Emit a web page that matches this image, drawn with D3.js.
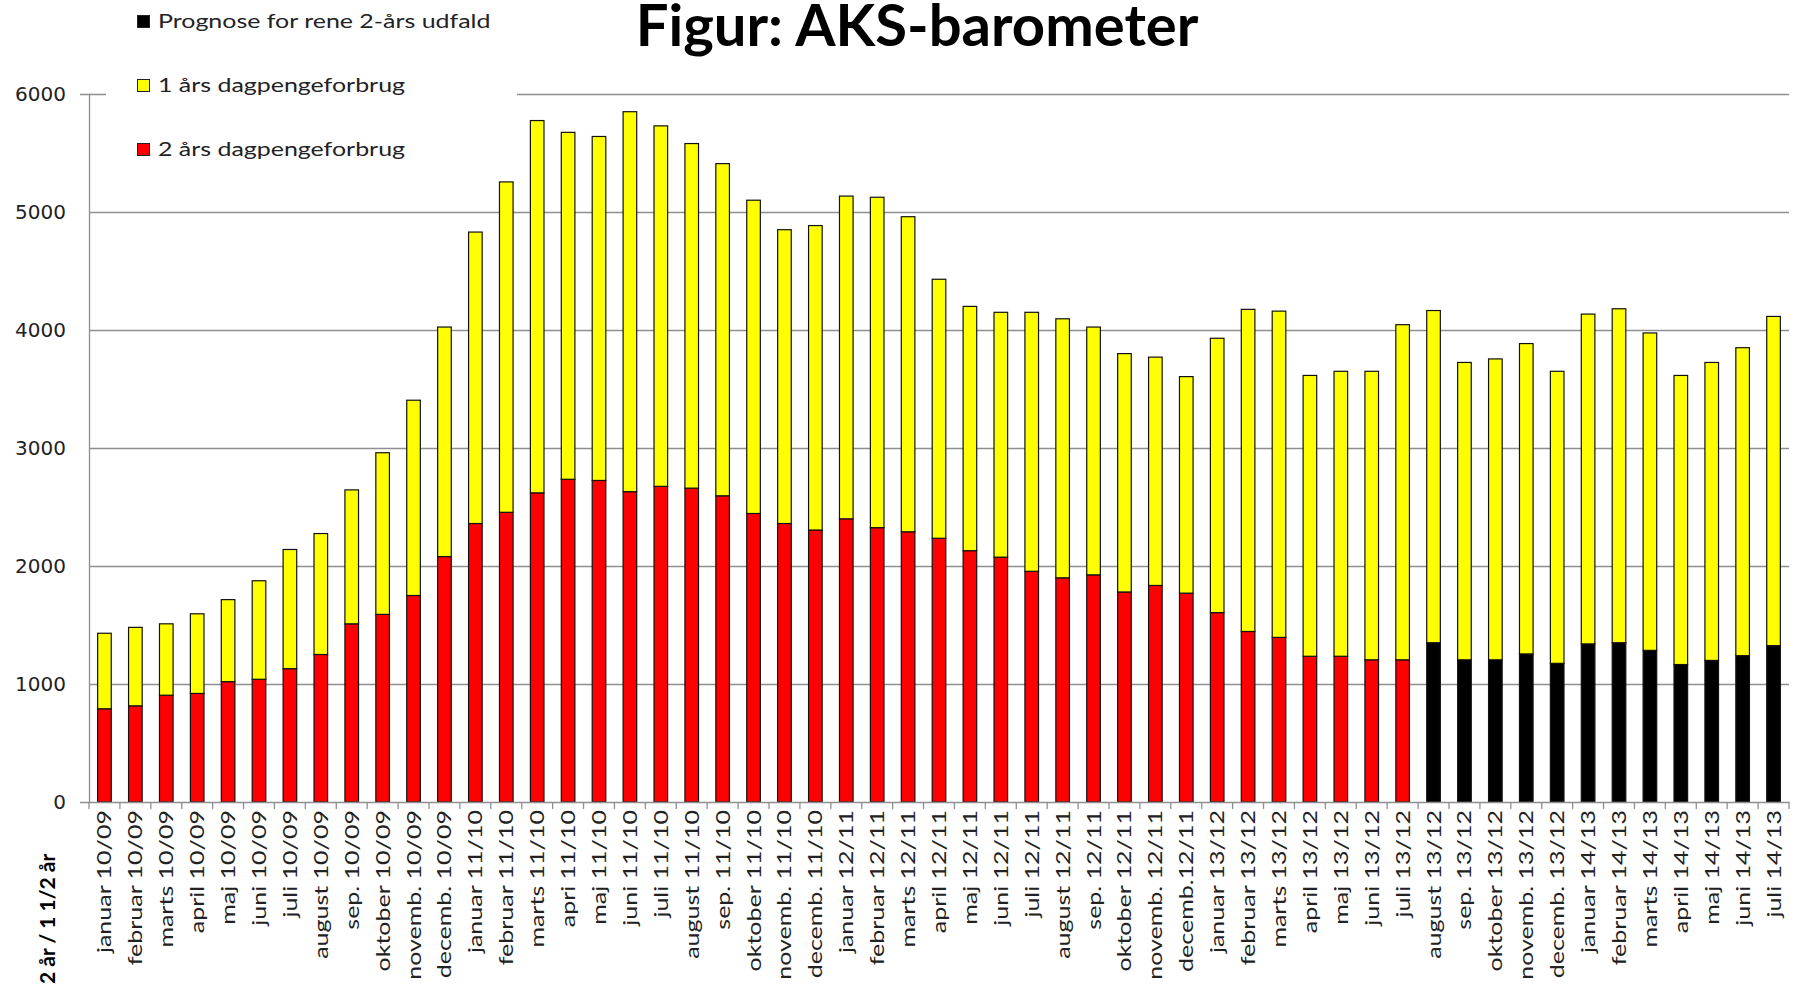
<!DOCTYPE html>
<html>
<head>
<meta charset="utf-8">
<script src="https://cdn.jsdelivr.net/npm/d3@7"></script>
<style>
  body { margin: 0; background: #fff; }
</style>
</head>
<body>
<div id="chart"></div>
<script>

// month labels on the x axis
const labels = [
  "januar 10/09", "februar 10/09", "marts 10/09", "april 10/09", "maj 10/09", "juni 10/09",
  "juli 10/09", "august 10/09", "sep. 10/09", "oktober 10/09", "novemb. 10/09", "decemb. 10/09",
  "januar 11/10", "februar 11/10", "marts 11/10", "apri 11/10", "maj 11/10", "juni 11/10",
  "juli 11/10", "august 11/10", "sep. 11/10", "oktober 11/10", "novemb. 11/10", "decemb. 11/10",
  "januar 12/11", "februar 12/11", "marts 12/11", "april 12/11", "maj 12/11", "juni 12/11",
  "juli 12/11", "august 12/11", "sep. 12/11", "oktober 12/11", "novemb. 12/11", "decemb.12/11",
  "januar 13/12", "februar 13/12", "marts 13/12", "april 13/12", "maj 13/12", "juni 13/12",
  "juli 13/12", "august 13/12", "sep. 13/12", "oktober 13/12", "novemb. 13/12", "decemb. 13/12",
  "januar 14/13", "februar 14/13", "marts 14/13", "april 14/13", "maj 14/13", "juni 14/13",
  "juli 14/13"
];

// 2 års dagpengeforbrug (red), null where the forecast takes over
const toAar = [
  790, 815, 905, 920, 1020, 1040, 1130, 1250, 1510, 1590, 1750, 2080,
  2360, 2455, 2620, 2735, 2725, 2630, 2675, 2660, 2595, 2445, 2360, 2305,
  2400, 2325, 2290, 2235, 2130, 2075, 1955, 1900, 1925, 1780, 1835, 1770,
  1605, 1445, 1395, 1235, 1235, 1205, 1205, null, null, null, null, null,
  null, null, null, null, null, null, null
];

// Prognose for rene 2-års udfald (black)
const prognose = [
  null, null, null, null, null, null, null, null, null, null, null, null,
  null, null, null, null, null, null, null, null, null, null, null, null,
  null, null, null, null, null, null, null, null, null, null, null, null,
  null, null, null, null, null, null, null, 1350, 1205, 1205, 1255, 1175,
  1340, 1350, 1285, 1165, 1200, 1240, 1325
];

// 1 års dagpengeforbrug (yellow, stacked on top)
const etAar = [
  640, 665, 605, 675, 695, 835, 1010, 1025, 1135, 1370, 1655, 1945,
  2470, 2800, 3155, 2940, 2915, 3220, 3055, 2920, 2815, 2655, 2490, 2580,
  2735, 2800, 2670, 2195, 2070, 2075, 2195, 2195, 2100, 2020, 1935, 1835,
  2325, 2730, 2765, 2380, 2415, 2445, 2840, 2815, 2520, 2550, 2630, 2475,
  2795, 2830, 2690, 2450, 2525, 2610, 2790
];

const yTicks = [0, 1000, 2000, 3000, 4000, 5000, 6000];

const width = 1800;
const height = 991;
const margin = {left: 89, right: 11, top: 94, bottom: 189};

const svg = d3.select("#chart")
  .append("svg")
  .attr("width", width)
  .attr("height", height);

const xScale = d3.scaleBand()
  .domain(d3.range(labels.length))
  .range([margin.left, width - margin.right])
  .paddingInner(0.56)
  .paddingOuter(0.28);

const yScale = d3.scaleLinear()
  .domain([0, 6000])
  .range([height - margin.bottom, margin.top]);

// horizontal gridlines
svg.append("g")
  .selectAll("line")
  .data(yTicks.slice(1))
  .enter()
  .append("line")
    .attr("x1", margin.left)
    .attr("x2", width - margin.right)
    .attr("y1", d => yScale(d) + 0.5)
    .attr("y2", d => yScale(d) + 0.5)
    .attr("stroke", "#8f8f8f")
    .attr("stroke-width", 1.3);

// bars
const base = d3.range(labels.length).map(i => toAar[i] != null ? toAar[i] : prognose[i]);

svg.append("g")
  .selectAll("rect")
  .data(d3.range(labels.length))
  .enter()
  .append("rect")
    .attr("x", i => xScale(i))
    .attr("y", i => yScale(base[i]))
    .attr("width", xScale.bandwidth())
    .attr("height", i => yScale(0) - yScale(base[i]))
    .attr("fill", i => toAar[i] != null ? "#ff0000" : "#000000")
    .attr("stroke", "#111")
    .attr("stroke-width", 1.2);

svg.append("g")
  .selectAll("rect")
  .data(d3.range(labels.length))
  .enter()
  .append("rect")
    .attr("x", i => xScale(i))
    .attr("y", i => yScale(base[i] + etAar[i]))
    .attr("width", xScale.bandwidth())
    .attr("height", i => yScale(base[i]) - yScale(base[i] + etAar[i]))
    .attr("fill", "#ffff00")
    .attr("stroke", "#111")
    .attr("stroke-width", 1.2);

// legend box hides the top gridline, like in the original
const legendItems = [
  {name: "Prognose for rene 2-års udfald", color: "#000000", y: 20},
  {name: "1 års dagpengeforbrug", color: "#ffff00", y: 84},
  {name: "2 års dagpengeforbrug", color: "#ff0000", y: 148}
];

svg.append("rect")
  .attr("x", 106)
  .attr("y", 0)
  .attr("width", 411)
  .attr("height", 170)
  .attr("fill", "#fff");

const legend = svg.append("g")
  .selectAll("g")
  .data(legendItems)
  .enter()
  .append("g")
  .attr("transform", d => `translate(137, ${d.y})`);

legend.append("rect")
  .attr("x", 0.5)
  .attr("y", -4.5)
  .attr("width", 12)
  .attr("height", 12)
  .attr("fill", d => d.color)
  .attr("stroke", "#222");

// the original font runs wider than Lato, so stretch it a little
legend.append("text")
  .attr("transform", "translate(21, 1) scale(1.28, 1)")
  .attr("dy", "0.35em")
  .attr("font-family", "Lato")
  .attr("font-size", "19.5px")
  .attr("fill", "#222")
  .text(d => d.name);

// y axis
svg.append("g")
  .attr("transform", `translate(${margin.left}, 0)`)
  .call(d3.axisLeft(yScale)
    .tickValues(yTicks)
    .tickFormat(d3.format("d"))
    .tickSizeInner(0)
    .tickSizeOuter(9)
    .tickPadding(23))
  .call(g => g.select(".domain").attr("stroke", "#8f8f8f").attr("stroke-width", 1.3))
  .call(g => g.selectAll("text")
    .attr("font-family", "DejaVu Sans")
    .attr("font-size", "20px")
    .attr("fill", "#222"));

// x axis
const xAxis = svg.append("g")
  .attr("transform", `translate(0, ${height - margin.bottom})`)
  .call(d3.axisBottom(xScale)
    .tickSize(0)
    .tickSizeOuter(0)
    .tickFormat(i => labels[i]));

xAxis.select(".domain").attr("stroke", "#8f8f8f").attr("stroke-width", 1.3);

xAxis.selectAll("text")
  .attr("transform", "rotate(-90) scale(1.25, 1)")
  .attr("x", -6.5)
  .attr("y", 0)
  .attr("dy", "0.35em")
  .attr("text-anchor", "end")
  .attr("font-family", "Lato")
  .attr("font-size", "20px")
  .attr("fill", "#222");

// ticks between the categories
xAxis.append("g")
  .selectAll("line")
  .data(d3.range(labels.length + 1))
  .enter()
  .append("line")
    .attr("x1", i => margin.left + i * xScale.step())
    .attr("x2", i => margin.left + i * xScale.step())
    .attr("y1", 0)
    .attr("y2", 7)
    .attr("stroke", "#8f8f8f")
    .attr("stroke-width", 1.3);

// title
svg.append("text")
  .attr("x", 917)
  .attr("y", 46)
  .attr("text-anchor", "middle")
  .attr("font-family", "Lato")
  .attr("font-weight", "bold")
  .attr("font-size", "58px")
  .attr("fill", "#000")
  .text("Figur: AKS-barometer");

// y axis label down in the corner
svg.append("text")
  .attr("transform", "translate(55, 984) rotate(-90)")
  .attr("text-anchor", "start")
  .attr("font-family", "Lato")
  .attr("font-weight", "bold")
  .attr("font-size", "21px")
  .attr("fill", "#000")
  .text("2 år / 1 1/2 år");

</script>
</body>
</html>
